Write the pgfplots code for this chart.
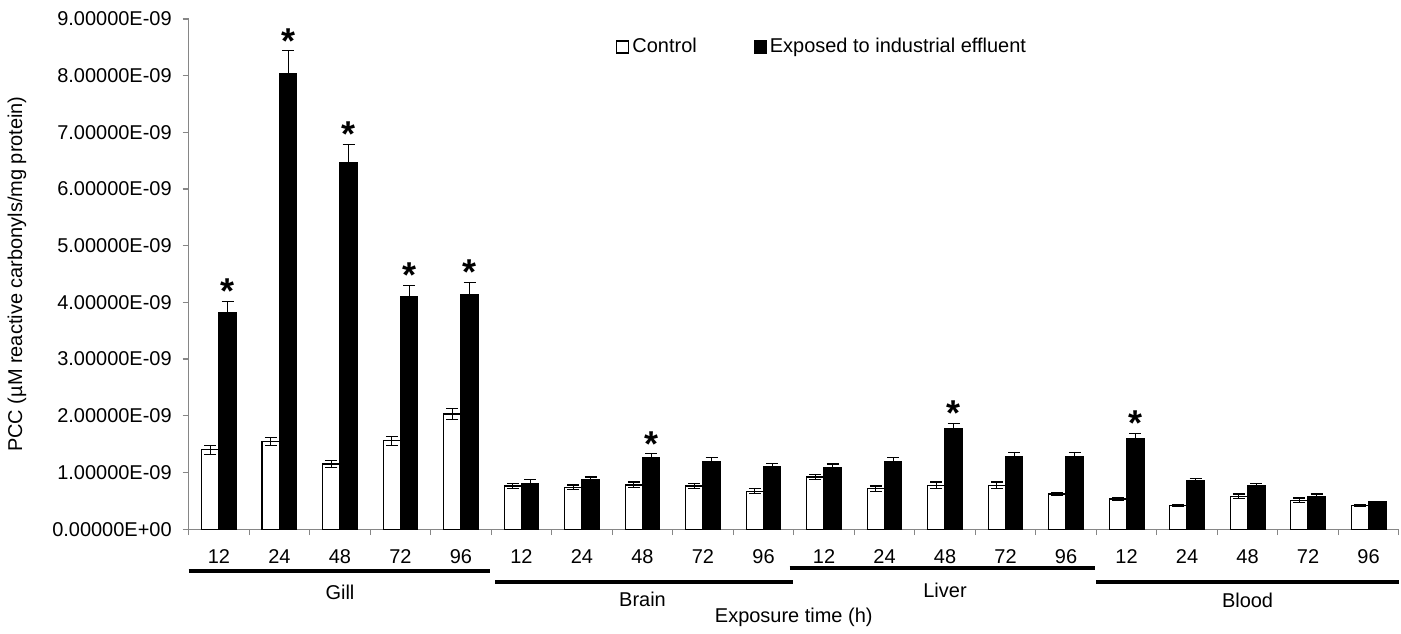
\documentclass[border=0pt]{standalone}
\usepackage{pgfplots}
\pgfplotsset{compat=1.18}
\usepackage{pgfplotstable}
\usepackage{fontspec}
\setmainfont{Liberation Sans}
\definecolor{axgray}{RGB}{134,134,134}

\pgfplotstableread{
x ctrl cerr expo eerr
0  1.40e-9 0.08e-9 3.82e-9 0.20e-9
1  1.55e-9 0.07e-9 8.04e-9 0.40e-9
2  1.15e-9 0.06e-9 6.46e-9 0.33e-9
3  1.56e-9 0.08e-9 4.11e-9 0.19e-9
4  2.03e-9 0.10e-9 4.14e-9 0.21e-9
5  0.76e-9 0.04e-9 0.81e-9 0.06e-9
6  0.74e-9 0.04e-9 0.87e-9 0.05e-9
7  0.78e-9 0.05e-9 1.26e-9 0.07e-9
8  0.76e-9 0.05e-9 1.19e-9 0.07e-9
9  0.67e-9 0.04e-9 1.10e-9 0.06e-9
10 0.92e-9 0.05e-9 1.08e-9 0.07e-9
11 0.71e-9 0.05e-9 1.19e-9 0.07e-9
12 0.77e-9 0.06e-9 1.78e-9 0.09e-9
13 0.77e-9 0.06e-9 1.28e-9 0.07e-9
14 0.62e-9 0.02e-9 1.28e-9 0.07e-9
15 0.53e-9 0.02e-9 1.60e-9 0.09e-9
16 0.42e-9 0.02e-9 0.85e-9 0.04e-9
17 0.58e-9 0.04e-9 0.77e-9 0.04e-9
18 0.51e-9 0.04e-9 0.58e-9 0.04e-9
19 0.42e-9 0.02e-9 0.48e-9 0.01e-9
}\pcc

\pgfplotstableread{
x y
0.1435  4.02e-9
1.1435  8.44e-9
2.1435  6.79e-9
3.1435  4.30e-9
4.1435  4.35e-9
7.1435  1.33e-9
12.1435 1.87e-9
15.1435 1.69e-9
}\stars

\begin{document}
\begin{tikzpicture}
\begin{axis}[
  scale only axis, width=606pt, height=255.5pt,
  xmin=-0.5, xmax=19.5, ymin=0, ymax=9e-9,
  axis lines*=left,
  axis line style={axgray, line width=0.6pt},
  tick style={axgray, line width=0.6pt},
  tick align=outside, major tick length=3pt,
  xtick={-0.5,0.5,1.5,2.5,3.5,4.5,5.5,6.5,7.5,8.5,9.5,10.5,11.5,12.5,13.5,14.5,15.5,16.5,17.5,18.5,19.5},
  x tick label as interval,
  xticklabels={12,24,48,72,96,12,24,48,72,96,12,24,48,72,96,12,24,48,72,96},
  xticklabel style={yshift=-3.6pt},
  ytick={0,1e-9,2e-9,3e-9,4e-9,5e-9,6e-9,7e-9,8e-9,9e-9},
  yticklabels={0.00000E+00,1.00000E-09,2.00000E-09,3.00000E-09,4.00000E-09,5.00000E-09,6.00000E-09,7.00000E-09,8.00000E-09,9.00000E-09},
  yticklabel style={xshift=-2pt},
  scaled y ticks=false,
  clip=false,
  every axis x label/.style={at={(axis description cs:0.5,0)}, anchor=center, yshift=-44pt},
  every axis y label/.style={at={(axis description cs:0,0.5)}, xshift=-86pt, rotate=90, anchor=center},
  xlabel={Exposure time (h)},
  ylabel={PCC (µM reactive carbonyls/mg protein)},
  legend columns=2,
  legend image code/.code={\draw[#1] (0pt,-3pt) rectangle (6pt,3pt);},
  legend style={at={(0.353,0.945)}, anchor=west, draw=none, fill=none, inner sep=0pt,
    nodes={inner sep=1.5pt},
    /tikz/every even column/.append style={column sep=27pt}},
  error bars/y dir=both, error bars/y explicit,
  error bars/error bar style={black, line width=0.6pt},
  error bars/error mark options={rotate=90, mark size=3pt, black, line width=0.6pt},
]
\addplot[ybar, bar width=0.287, bar shift=0pt, fill=white, draw=black, line width=0.6pt, forget plot]
  table[x expr=\thisrow{x}-0.1435, y=ctrl, y error=cerr] {\pcc};
\addplot[ybar, bar width=0.287, bar shift=0pt, fill=black, draw=black, line width=0.6pt, forget plot]
  table[x expr=\thisrow{x}+0.1435, y=expo, y error=eerr] {\pcc};
\addplot[draw=none, mark=none, forget plot, nodes near coords={*},
  every node near coord/.append style={anchor=base, inner sep=0pt, yshift=-1.2pt, font=\fontsize{18}{18}\selectfont\bfseries, black}]
  table[x=x, y=y] {\stars};

\addlegendimage{fill=white, draw=black, line width=0.6pt}
\addlegendentry{Control}
\addlegendimage{fill=black, draw=black, line width=0.6pt}
\addlegendentry{Exposed to industrial effluent}

\draw[line width=2.2pt] ([yshift=-21pt]axis cs:-0.5,0) -- ([yshift=-21pt]axis cs:4.48,0);
\draw[line width=2.2pt] ([yshift=-26.5pt]axis cs:4.57,0) -- ([yshift=-26.5pt]axis cs:9.48,0);
\draw[line width=2.2pt] ([yshift=-19.5pt]axis cs:9.43,0) -- ([yshift=-19.5pt]axis cs:14.48,0);
\draw[line width=2.2pt] ([yshift=-26.5pt]axis cs:14.5,0) -- ([yshift=-26.5pt]axis cs:19.5,0);
\node at ([yshift=-31.5pt]axis cs:2,0) {Gill};
\node at ([yshift=-35pt]axis cs:7,0) {Brain};
\node at ([yshift=-30.5pt]axis cs:12,0) {Liver};
\node at ([yshift=-35.5pt]axis cs:17,0) {Blood};

\path ([xshift=-94.5pt,yshift=-52.5pt]rel axis cs:0,0) rectangle ([xshift=0.5pt,yshift=9.5pt]rel axis cs:1,1);
\end{axis}
\end{tikzpicture}
\end{document}
